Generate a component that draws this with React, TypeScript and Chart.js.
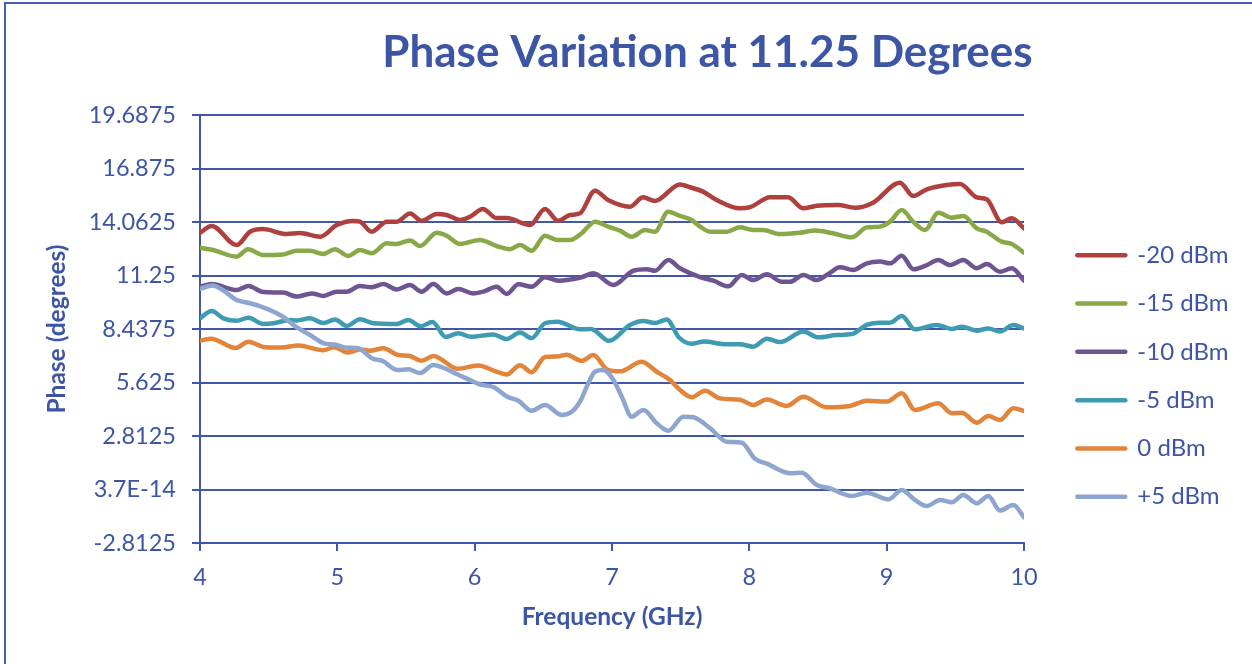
import React, { useEffect, useRef } from 'react';
import { Chart, registerables } from 'chart.js';

Chart.register(...registerables);

// ---------- data ----------
const TITLE = 'Phase Variation at 11.25 Degrees';
const X_TITLE = 'Frequency (GHz)';
const Y_TITLE = 'Phase (degrees)';

const SERIES_NAMES = ['-20 dBm', '-15 dBm', '-10 dBm', '-5 dBm', '0 dBm', '+5 dBm'];
const SERIES_COLORS = ['#AE413E', '#89A948', '#6E5592', '#3E9BB2', '#E2843A', '#8EA6CF'];

const Y_TICK_LABELS = ['-2.8125', '3.7E-14', '2.8125', '5.625', '8.4375', '11.25', '14.0625', '16.875', '19.6875'];

const FREQ_M20 = [4.00, 4.085, 4.267, 4.364, 4.459, 4.631, 4.728, 4.874, 4.995, 5.114, 5.165, 5.25, 5.36, 5.432, 5.529, 5.614, 5.724, 5.796, 5.893, 5.966, 6.059, 6.16, 6.233, 6.403, 6.512, 6.607, 6.694, 6.767, 6.876, 6.971, 7.131, 7.226, 7.313, 7.495, 7.568, 7.663, 7.762, 7.932, 8.005, 8.151, 8.282, 8.391, 8.491, 8.646, 8.77, 8.90, 9.097, 9.192, 9.292, 9.437, 9.534, 9.656, 9.728, 9.838, 9.911, 10.0];
const PHASE_M20 = [13.50, 13.85, 12.85, 13.55, 13.69, 13.43, 13.48, 13.29, 13.90, 14.12, 14.08, 13.55, 14.08, 14.08, 14.51, 14.12, 14.48, 14.43, 14.17, 14.34, 14.75, 14.27, 14.27, 13.90, 14.75, 14.13, 14.43, 14.52, 15.71, 15.22, 14.87, 15.36, 15.17, 16.04, 15.89, 15.66, 15.22, 14.78, 14.84, 15.36, 15.36, 14.78, 14.92, 14.96, 14.81, 15.08, 16.13, 15.43, 15.78, 16.01, 16.06, 15.36, 15.26, 14.05, 14.26, 13.73];

const FREQ_M15 = [4.00, 4.095, 4.267, 4.35, 4.459, 4.604, 4.704, 4.801, 4.896, 4.983, 5.078, 5.165, 5.25, 5.36, 5.432, 5.529, 5.602, 5.724, 5.796, 5.893, 6.039, 6.16, 6.257, 6.33, 6.415, 6.512, 6.597, 6.694, 6.779, 6.876, 6.971, 7.058, 7.144, 7.24, 7.313, 7.408, 7.495, 7.58, 7.641, 7.714, 7.835, 7.932, 8.027, 8.10, 8.223, 8.369, 8.478, 8.609, 8.746, 8.855, 8.952, 9.024, 9.11, 9.192, 9.279, 9.376, 9.474, 9.558, 9.656, 9.728, 9.838, 9.911, 10.0];
const PHASE_M15 = [12.71, 12.59, 12.24, 12.63, 12.33, 12.36, 12.55, 12.55, 12.38, 12.63, 12.28, 12.59, 12.42, 12.94, 12.91, 13.09, 12.80, 13.50, 13.34, 12.91, 13.12, 12.80, 12.63, 12.85, 12.55, 13.34, 13.12, 13.12, 13.47, 14.08, 13.82, 13.61, 13.29, 13.64, 13.55, 14.60, 14.38, 14.17, 13.82, 13.55, 13.55, 13.78, 13.64, 13.64, 13.43, 13.50, 13.61, 13.47, 13.26, 13.78, 13.82, 14.08, 14.69, 14.08, 13.64, 14.55, 14.29, 14.38, 13.73, 13.55, 13.03, 12.91, 12.45];

const FREQ_M10 = [4.00, 4.085, 4.267, 4.352, 4.461, 4.607, 4.704, 4.813, 4.898, 4.995, 5.068, 5.165, 5.25, 5.335, 5.432, 5.529, 5.614, 5.699, 5.796, 5.881, 5.99, 6.063, 6.16, 6.233, 6.318, 6.415, 6.512, 6.609, 6.779, 6.864, 7.01, 7.155, 7.253, 7.313, 7.41, 7.495, 7.641, 7.738, 7.847, 7.944, 8.029, 8.127, 8.236, 8.296, 8.393, 8.491, 8.575, 8.66, 8.757, 8.855, 8.952, 9.024, 9.11, 9.194, 9.279, 9.376, 9.461, 9.558, 9.656, 9.728, 9.825, 9.911, 10.0];
const PHASE_M10 = [10.66, 10.80, 10.49, 10.70, 10.38, 10.35, 10.14, 10.31, 10.17, 10.40, 10.40, 10.70, 10.63, 10.80, 10.52, 10.75, 10.40, 10.80, 10.31, 10.54, 10.31, 10.40, 10.66, 10.28, 10.79, 10.66, 11.16, 10.98, 11.16, 11.37, 10.75, 11.50, 11.58, 11.50, 12.06, 11.63, 11.17, 10.98, 10.68, 11.28, 11.01, 11.31, 10.92, 10.92, 11.28, 11.01, 11.33, 11.68, 11.54, 11.89, 11.98, 11.89, 12.29, 11.58, 11.75, 12.06, 11.80, 12.06, 11.63, 11.85, 11.45, 11.63, 10.98];

const FREQ_M5 = [4.00, 4.085, 4.17, 4.267, 4.352, 4.461, 4.534, 4.655, 4.704, 4.801, 4.898, 4.983, 5.07, 5.165, 5.262, 5.432, 5.517, 5.606, 5.693, 5.788, 5.881, 5.973, 6.136, 6.233, 6.33, 6.415, 6.512, 6.603, 6.767, 6.847, 6.978, 7.131, 7.228, 7.313, 7.398, 7.488, 7.579, 7.67, 7.835, 7.932, 8.029, 8.127, 8.223, 8.393, 8.502, 8.636, 8.746, 8.855, 8.952, 9.024, 9.11, 9.206, 9.364, 9.474, 9.547, 9.656, 9.74, 9.825, 9.922, 10.0];
const PHASE_M5 = [9.00, 9.38, 9.00, 8.87, 9.03, 8.70, 8.74, 8.91, 8.89, 9.00, 8.75, 8.94, 8.60, 8.95, 8.74, 8.70, 8.91, 8.58, 8.81, 8.02, 8.21, 8.03, 8.15, 7.91, 8.25, 7.96, 8.74, 8.82, 8.42, 8.44, 7.82, 8.65, 8.86, 8.75, 8.94, 7.99, 7.66, 7.78, 7.63, 7.63, 7.51, 7.93, 7.75, 8.30, 8.00, 8.12, 8.17, 8.65, 8.77, 8.77, 9.12, 8.42, 8.65, 8.44, 8.56, 8.35, 8.47, 8.30, 8.65, 8.47];

const FREQ_0 = [4.00, 4.08, 4.259, 4.352, 4.473, 4.593, 4.714, 4.898, 4.976, 5.074, 5.165, 5.238, 5.335, 5.442, 5.522, 5.614, 5.699, 5.875, 6.024, 6.16, 6.233, 6.33, 6.415, 6.512, 6.597, 6.67, 6.779, 6.864, 6.964, 7.058, 7.216, 7.326, 7.422, 7.495, 7.58, 7.677, 7.786, 7.932, 8.029, 8.127, 8.272, 8.393, 8.563, 8.733, 8.855, 9.0, 9.11, 9.206, 9.376, 9.474, 9.547, 9.656, 9.74, 9.825, 9.922, 10.0];
const PHASE_0 = [7.82, 7.93, 7.44, 7.77, 7.48, 7.46, 7.57, 7.32, 7.48, 7.20, 7.36, 7.30, 7.42, 7.07, 7.03, 6.77, 7.02, 6.35, 6.52, 6.19, 6.05, 6.53, 6.17, 6.97, 6.99, 7.09, 6.76, 7.07, 6.31, 6.21, 6.72, 6.19, 5.76, 5.23, 4.85, 5.19, 4.79, 4.72, 4.44, 4.73, 4.39, 4.88, 4.32, 4.39, 4.67, 4.62, 5.06, 4.18, 4.53, 4.01, 4.04, 3.51, 3.86, 3.65, 4.27, 4.13];

const FREQ_P5 = [4.00, 4.091, 4.16, 4.267, 4.364, 4.444, 4.59, 4.706, 4.801, 4.903, 4.979, 5.074, 5.147, 5.252, 5.329, 5.438, 5.517, 5.602, 5.699, 5.772, 5.869, 5.954, 6.039, 6.136, 6.236, 6.318, 6.415, 6.512, 6.634, 6.707, 6.767, 6.816, 6.876, 6.937, 7.01, 7.071, 7.144, 7.228, 7.326, 7.41, 7.519, 7.592, 7.714, 7.835, 7.944, 8.041, 8.127, 8.296, 8.381, 8.491, 8.587, 8.746, 8.855, 9.012, 9.11, 9.206, 9.292, 9.389, 9.474, 9.558, 9.656, 9.74, 9.825, 9.922, 10.0];
const PHASE_P5 = [10.55, 10.72, 10.51, 9.96, 9.79, 9.62, 9.15, 8.52, 8.12, 7.68, 7.62, 7.45, 7.44, 6.90, 6.76, 6.28, 6.32, 6.12, 6.55, 6.40, 6.07, 5.79, 5.52, 5.39, 4.88, 4.67, 4.14, 4.44, 3.92, 4.09, 4.62, 5.40, 6.19, 6.28, 5.76, 4.88, 3.83, 4.18, 3.48, 3.09, 3.83, 3.80, 3.22, 2.51, 2.46, 1.62, 1.36, 0.85, 0.88, 0.24, 0.06, -0.34, -0.17, -0.52, -0.03, -0.55, -0.87, -0.55, -0.67, -0.29, -0.73, -0.34, -1.11, -0.81, -1.46];

const SERIES_FREQ = [FREQ_M20, FREQ_M15, FREQ_M10, FREQ_M5, FREQ_0, FREQ_P5];
const SERIES_PHASE = [PHASE_M20, PHASE_M15, PHASE_M10, PHASE_M5, PHASE_0, PHASE_P5];

const X_MIN = 4;
const X_MAX = 10;
const X_STEP = 1;
const Y_MIN = -2.8125;
const Y_MAX = 19.6875;
const Y_STEP = 2.8125;

// ---------- styling / layout ----------
const CANVAS_W = 1415;
const CANVAS_H = 752;
const TEXT_COLOR = '#3C55A4';
const GRID_COLOR = '#4157A7';
const FONT = 'Lato';

const framePlugin = {
  id: 'frame',
  beforeDraw(chart: any) {
    const ctx = chart.ctx;
    ctx.save();
    ctx.fillStyle = '#ffffff';
    ctx.fillRect(0, 0, chart.width, chart.height);
    ctx.strokeStyle = '#4560AC';
    ctx.lineWidth = 2;
    ctx.beginPath();
    ctx.moveTo(5, chart.height);
    ctx.lineTo(5, 3);
    ctx.lineTo(chart.width, 3);
    ctx.stroke();
    ctx.restore();
  },
};

export default function App() {
  const ref = useRef<HTMLCanvasElement>(null);

  useEffect(() => {
    const canvas = ref.current;
    if (!canvas) return;

    const n = SERIES_NAMES.length;
    const datasets = SERIES_NAMES.map((name, i) => ({
      label: name,
      data: SERIES_FREQ[i].map((f, j) => ({ x: f, y: SERIES_PHASE[i][j] })),
      borderColor: SERIES_COLORS[i],
      backgroundColor: SERIES_COLORS[i],
      borderWidth: 4.5,
      pointRadius: 0,
      pointHoverRadius: 0,
      pointBorderWidth: 4.5,
      pointBorderColor: SERIES_COLORS[i],
      cubicInterpolationMode: 'monotone' as const,
      borderCapStyle: 'round' as const,
      borderJoinStyle: 'round' as const,
      fill: false,
      order: n - i,
    }));

    const chart = new Chart(canvas, {
      type: 'line',
      data: { datasets },
      plugins: [framePlugin],
      options: {
        animation: false,
        responsive: false,
        maintainAspectRatio: false,
        events: [],
        layout: { padding: 0 },
        plugins: {
          tooltip: { enabled: false },
          title: {
            display: true,
            text: TITLE,
            color: TEXT_COLOR,
            font: { family: FONT, size: 44, weight: 'bold' },
            padding: { top: 26.1, bottom: 36.1 },
          },
          legend: {
            display: true,
            position: 'right',
            align: 'center',
            labels: {
              color: TEXT_COLOR,
              font: { family: FONT, size: 24 },
              padding: 24.3,
              usePointStyle: true,
              pointStyle: 'line',
              pointStyleWidth: 48,
              generateLabels: (c: any) =>
                (Chart.defaults.plugins.legend.labels.generateLabels as any)(c)
                  .map((l: any) => ({
                    ...l,
                    pointStyle: 'line',
                    lineCap: 'round',
                    lineWidth: 4.5,
                    strokeStyle: SERIES_COLORS[l.datasetIndex],
                    fillStyle: SERIES_COLORS[l.datasetIndex],
                    fontColor: TEXT_COLOR,
                  }))
                  .sort((a: any, b: any) => a.datasetIndex - b.datasetIndex),
            },
          },
        },
        scales: {
          x: {
            type: 'linear',
            position: 'bottom',
            min: X_MIN,
            max: X_MAX,
            ticks: {
              stepSize: X_STEP,
              color: TEXT_COLOR,
              font: { family: FONT, size: 23.5 },
              padding: 12.7,
              maxRotation: 0,
            },
            grid: {
              display: true,
              drawOnChartArea: false,
              drawTicks: true,
              tickLength: 8,
              color: GRID_COLOR,
              lineWidth: 2,
            },
            border: { display: true, color: GRID_COLOR, width: 2 },
            title: {
              display: true,
              text: X_TITLE,
              color: TEXT_COLOR,
              font: { family: FONT, size: 24.5, weight: 'bold' },
              padding: { top: 0, bottom: 119.8 },
            },
            afterFit: (s: any) => {
              s.height = CANVAS_H - 543;
            },
          },
          y: {
            type: 'linear',
            position: 'left',
            min: Y_MIN,
            max: Y_MAX,
            ticks: {
              stepSize: Y_STEP,
              color: TEXT_COLOR,
              font: { family: FONT, size: 23.5 },
              padding: 16,
              callback: (_v: any, i: number) => Y_TICK_LABELS[i],
            },
            grid: {
              color: GRID_COLOR,
              lineWidth: 2,
              tickLength: 8,
              drawTicks: true,
            },
            border: { display: true, color: GRID_COLOR, width: 2 },
            title: {
              display: true,
              text: Y_TITLE,
              color: TEXT_COLOR,
              font: { family: FONT, size: 24.5, weight: 'bold' },
              padding: { top: 41.9, bottom: 0 },
            },
            afterFit: (s: any) => {
              s.width = 200;
            },
          },
          gapRight: {
            type: 'linear',
            axis: 'y',
            position: 'right',
            display: true,
            weight: 0,
            grid: { display: false },
            ticks: { display: false },
            border: { display: false },
            afterFit: (s: any) => {
              s.width = 29;
            },
          },
          outerRight: {
            type: 'linear',
            axis: 'y',
            position: 'right',
            display: true,
            weight: 1001,
            grid: { display: false },
            ticks: { display: false },
            border: { display: false },
            afterFit: (s: any) => {
              s.width = 185.1;
            },
          },
        },
      } as any,
    });

    return () => {
      chart.destroy();
    };
  }, []);

  return (
    <div
      style={{
        position: 'fixed',
        left: 0,
        top: 0,
        width: 1252,
        height: 664,
        overflow: 'hidden',
        background: '#ffffff',
      }}
    >
      <canvas ref={ref} width={CANVAS_W} height={CANVAS_H} style={{ display: 'block' }} />
    </div>
  );
}
